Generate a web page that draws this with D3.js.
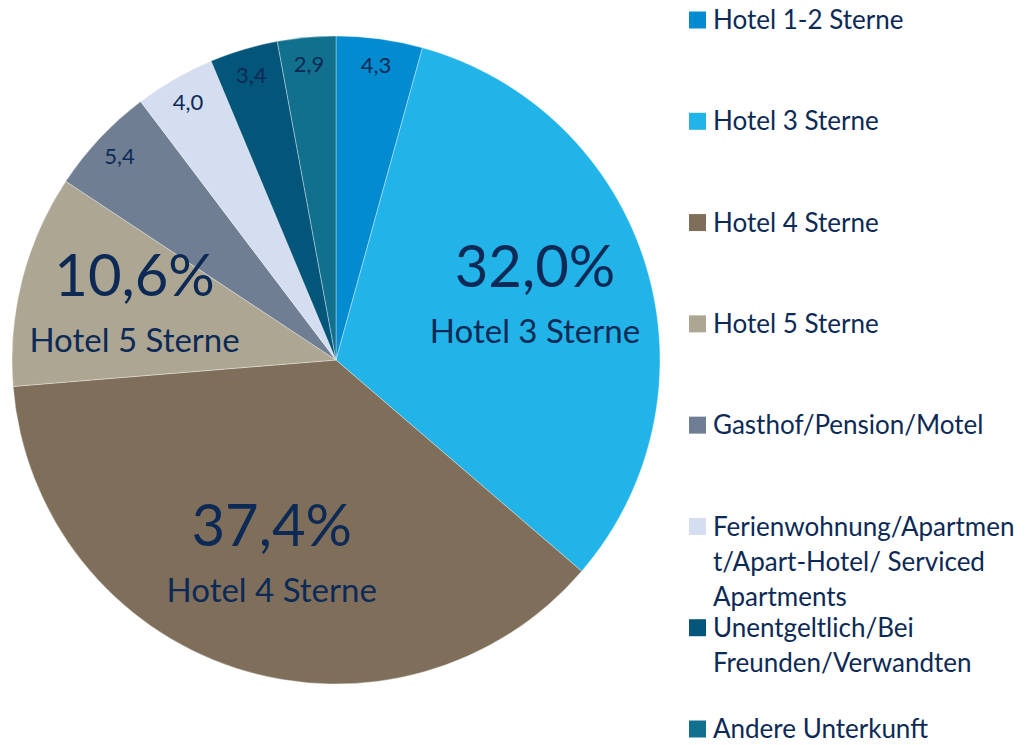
<!DOCTYPE html>
<html>
<head>
<meta charset="utf-8">
<script src="https://cdn.jsdelivr.net/npm/d3@7"></script>
<style>
  body { margin: 0; background: #fff; }
  text { font-family: Lato, "Open Sans", sans-serif; fill: #0c2a55; }
</style>
</head>
<body>
<script>
// categories and shares (%)
var categories = ["Hotel 1-2 Sterne", "Hotel 3 Sterne", "Hotel 4 Sterne", "Hotel 5 Sterne",
                  "Gasthof/Pension/Motel", "Ferienwohnung/Apartment/Apart-Hotel/ Serviced Apartments",
                  "Unentgeltlich/Bei Freunden/Verwandten", "Andere Unterkunft"];
var values = [4.3, 32.0, 37.4, 10.6, 5.4, 4.0, 3.4, 2.9];
var colors = ["#038bcf", "#22b3e8", "#7f6f5a", "#ada692", "#6f7e93", "#d4def0", "#04557a", "#12708f"];
// legend text as it wraps in the original
var legendLines = [["Hotel 1-2 Sterne"], ["Hotel 3 Sterne"], ["Hotel 4 Sterne"], ["Hotel 5 Sterne"],
                   ["Gasthof/Pension/Motel"], ["Ferienwohnung/Apartmen", "t/Apart-Hotel/ Serviced", "Apartments"],
                   ["Unentgeltlich/Bei", "Freunden/Verwandten"], ["Andere Unterkunft"]];
// big labels only for the large slices
var bigLabel = [false, true, true, true, false, false, false, false];

//Width and height
var w = 1036;
var h = 745;
var cx = 336, cy = 360, r = 324;

var svg = d3.select("body")
            .append("svg")
            .attr("width", w)
            .attr("height", h);

var data = values.map(function(v, i){ return {name: categories[i], value: v, i: i}; });

var pie = d3.pie()
            .sort(null)
            .value(function(d){ return d.value; });

var arc = d3.arc().innerRadius(0).outerRadius(r);
var smallArc = d3.arc().innerRadius(297).outerRadius(297);
var bigArc = d3.arc().innerRadius(208).outerRadius(208);

var g = svg.append("g")
           .attr("transform", "translate(" + cx + "," + cy + ")");

var arcs = pie(data);

g.selectAll("path")
    .data(arcs)
    .enter()
    .append("path")
    .attr("d", arc)
    .attr("fill", function(d){ return colors[d.index]; })
    .attr("stroke", "#ffffff")
    .attr("stroke-opacity", 0.5)
    .attr("stroke-width", 0.7);

function fmt(v){ return v.toFixed(1).replace(".", ","); }

// small value labels
g.selectAll(".small")
    .data(arcs.filter(function(d){ return !bigLabel[d.index]; }))
    .enter()
    .append("text")
    .attr("class", "small")
    .attr("x", function(d){ return smallArc.centroid(d)[0]; })
    .attr("y", function(d){ return smallArc.centroid(d)[1]; })
    .attr("text-anchor", "middle")
    .attr("dy", "0.35em")
    .style("font-size", "22px")
    .text(function(d){ return fmt(d.data.value); });

// big labels: percentage + category name
var big = g.selectAll(".big")
    .data(arcs.filter(function(d){ return bigLabel[d.index]; }))
    .enter()
    .append("g")
    .attr("class", "big")
    .attr("transform", function(d){
        var c = bigArc.centroid(d);
        return "translate(" + c[0] + "," + c[1] + ")";
    });

big.append("text")
    .attr("text-anchor", "middle")
    .attr("y", -12)
    .style("font-size", "58px")
    .text(function(d){ return fmt(d.data.value) + "%"; });

big.append("text")
    .attr("text-anchor", "middle")
    .attr("y", 44)
    .style("font-size", "33px")
    .text(function(d){ return d.data.name; });

//legend
var legendY = d3.scaleLinear().domain([0, 7]).range([20, 729]);

var leg = svg.selectAll(".legend")
    .data(data)
    .enter()
    .append("g")
    .attr("class", "legend")
    .attr("transform", function(d){ return "translate(689," + legendY(d.i) + ")"; });

leg.append("rect")
    .attr("x", 0)
    .attr("y", -8.5)
    .attr("width", 17)
    .attr("height", 17)
    .attr("fill", function(d){ return colors[d.i]; });

leg.each(function(d){
    var t = d3.select(this).append("text")
        .attr("x", 24)
        .attr("y", 0)
        .style("font-size", "26px");
    legendLines[d.i].forEach(function(line, k){
        t.append("tspan")
         .attr("x", 24)
         .attr("y", k * 35)
         .attr("dy", "0.35em")
         .text(line);
    });
});
</script>
</body>
</html>
